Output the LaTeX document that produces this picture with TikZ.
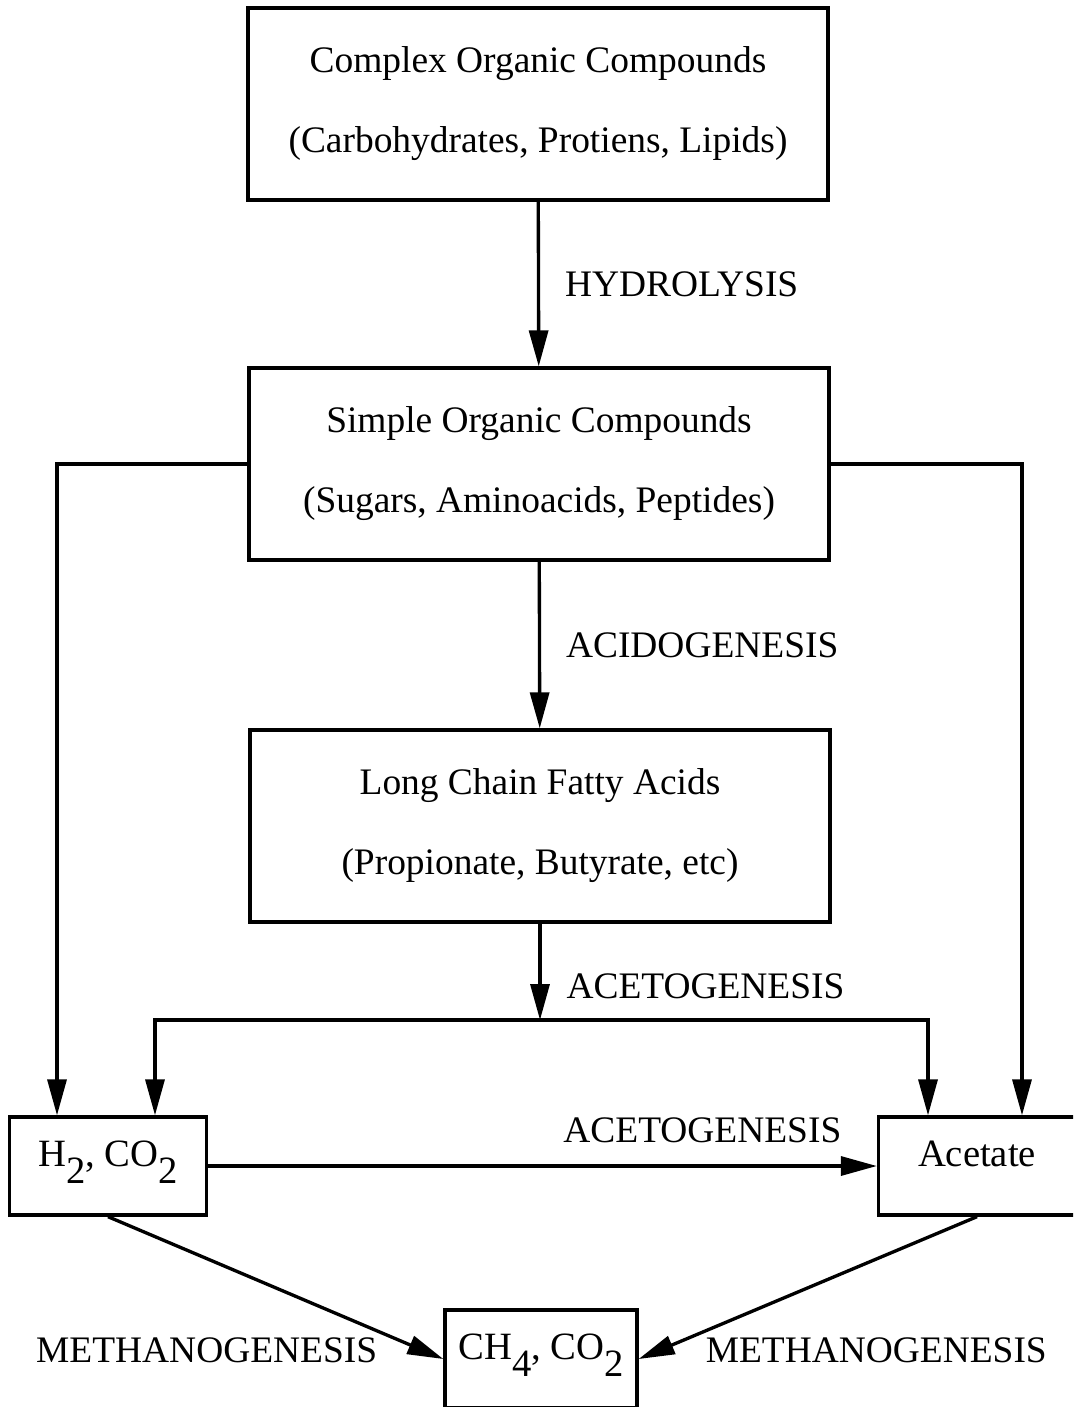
\documentclass[tikz,border=0pt]{standalone}
\usepackage{fontspec}
\setmainfont{Liberation Serif}
\usetikzlibrary{arrows.meta,positioning}

\newcommand{\lowsub}[1]{\raisebox{-0.42em}{#1}}

\tikzset{
	stage/.style={draw, line width=1.9pt, minimum width=11.6cm, minimum height=3.84cm, align=center, text depth=0.5em},
	gas/.style={draw, line width=1.9pt, minimum width=3.94cm, minimum height=1.96cm,
		font=\fontsize{22}{26}\selectfont, text height=0.7em, text depth=0.6em},
	flow/.style={line width=1.9pt, -{Triangle[length=0.72cm,width=0.38cm]}}
}

\begin{document}
\begin{tikzpicture}[x=0.02cm, y=-0.02cm, font=\fontsize{21.3}{45.5}\selectfont]
	\clip (0,0) rectangle (1073,1407);
	\fill[white] (0,0) rectangle (1073,1407);

	\node[stage] (complex) at (538,104) {Complex Organic Compounds\\(Carbohydrates, Protiens, Lipids)};
	\node[stage] (simple) at (539,464) {Simple Organic Compounds\\(Sugars, Aminoacids, Peptides)};
	\node[stage] (fatty) at (540,826) {Long Chain Fatty Acids\\(Propionate, Butyrate, etc)};
	\node[gas] (hydrogen) at (108,1166) {H\lowsub{2}, CO\lowsub{2}};
	\node[gas] (acetate) at (977,1166) {Acetate};
	\node[gas, minimum width=3.84cm] (methane) at (541,1359) {CH\lowsub{4}, CO\lowsub{2}};
	\coordinate (split) at (540,1020);

	\draw[flow] (complex) -- node[right=0.38cm] {HYDROLYSIS} (simple);
	\draw[flow] (simple) -- node[right=0.38cm] {ACIDOGENESIS} (fatty);
	\draw[flow] (fatty) -- node[right=0.38cm, yshift=-0.28cm] {ACETOGENESIS} (split);
	\draw[flow] (split) -| ([xshift=0.94cm]hydrogen.north);
	\draw[flow] (split) -| ([xshift=-0.98cm]acetate.north);
	\draw[flow] (simple.west) -| ([xshift=-1.02cm]hydrogen.north);
	\draw[flow] (simple.east) -| ([xshift=0.9cm]acetate.north);
	\draw[flow] (hydrogen) -- node[pos=1, above left=0.32cm and 0.56cm] {ACETOGENESIS} (acetate);

	\draw[flow] (hydrogen.south) -- (methane.west);
	\draw[flow] (acetate.south) -- (methane.east);
	\node[left=1.2cm of methane.west, yshift=0.18cm] (methleft) {METHANOGENESIS};
	\node[right=1.22cm of methane.east, yshift=0.18cm] (methright) {METHANOGENESIS};
\end{tikzpicture}
\end{document}
